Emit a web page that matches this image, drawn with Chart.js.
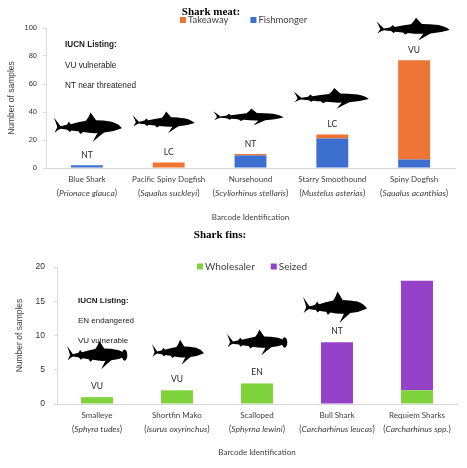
<!DOCTYPE html>
<html>
<head>
<meta charset="utf-8">
<script src="https://cdn.jsdelivr.net/npm/chart.js@4.4.1/dist/chart.umd.min.js"></script>
<style>
    body { margin: 0; background: #fff; }
    .box { position: absolute; left: 0; width: 467px; }
    #meatBox { top: 0; height: 230px; }
    #finBox { top: 230px; height: 238px; }
</style>
</head>
<body>
<div class="box" id="meatBox"><canvas id="meatChart"></canvas></div>
<div class="box" id="finBox"><canvas id="finChart"></canvas></div>
<script>
// * Shark meat
const meatSpecies = ["Blue Shark", "Pacific Spiny Dogfish", "Nursehound", "Starry Smoothound", "Spiny Dogfish"];
const meatLatin = ["Prionace glauca", "Squalus suckleyi", "Scyliorhinus stellaris", "Mustelus asterias", "Squalus acanthias"];
const meatIucn = ["NT", "LC", "NT", "LC", "VU"];
const fishmonger = [2, 0, 9, 21, 6];
const takeaway = [0, 4, 1, 3, 71];
const meatTicks = [0, 20, 40, 60, 80, 100];
const meatNotes = ["VU vulnerable", "NT near threatened"];

// * Shark fins
const finSpecies = ["Smalleye", "Shortfin Mako", "Scalloped", "Bull Shark", "Requiem Sharks"];
const finLatin = ["Sphyra tudes", "Isurus oxyrinchus", "Sphyrna lewini", "Carcharhinus leucas", "Carcharhinus spp."];
const finIucn = ["VU", "VU", "EN", "NT", ""];
const wholesaler = [1, 2, 3, 0, 2];
const seized = [0, 0, 0, 9, 16];
const finTicks = [0, 5, 10, 15, 20];
const finNotes = ["EN endangered", "VU vulnerable"];

const SANS = "Lato, 'Open Sans', sans-serif";
const ARIAL = "'Liberation Sans', Arial, sans-serif";
const SERIF = "'Liberation Serif', 'Times New Roman', serif";
const TEXT = "#404040";

// silhouettes, drawn facing right (tail at x=0, nose at x=100)
function sharkPath(ctx, cx, cy, len, h, hammer) {
    const X = (u) => cx + (u - 50) / 100 * len;
    const Y = (v) => cy + v / 100 * len * h;
    ctx.beginPath();
    ctx.moveTo(X(100), Y(2));
    ctx.quadraticCurveTo(X(95), Y(-7), X(85), Y(-11));
    ctx.quadraticCurveTo(X(72), Y(-14), X(62), Y(-14));
    ctx.lineTo(X(54), Y(-30));
    ctx.quadraticCurveTo(X(51), Y(-19), X(47), Y(-13));
    ctx.quadraticCurveTo(X(35), Y(-10), X(25), Y(-6));
    ctx.lineTo(X(22), Y(-11));
    ctx.lineTo(X(19), Y(-5));
    ctx.quadraticCurveTo(X(14), Y(-3), X(10), Y(-2));
    ctx.lineTo(X(0), Y(-20));
    ctx.quadraticCurveTo(X(4), Y(-6), X(5), Y(0));
    ctx.lineTo(X(1), Y(11));
    ctx.quadraticCurveTo(X(7), Y(4), X(10), Y(3));
    ctx.quadraticCurveTo(X(16), Y(4.5), X(20), Y(5));
    ctx.lineTo(X(23), Y(10));
    ctx.lineTo(X(26), Y(6.5));
    ctx.quadraticCurveTo(X(32), Y(8), X(36), Y(8.5));
    ctx.lineTo(X(39), Y(14));
    ctx.lineTo(X(43), Y(10));
    ctx.quadraticCurveTo(X(55), Y(13), X(64), Y(12));
    ctx.lineTo(X(57), Y(30));
    ctx.quadraticCurveTo(X(66), Y(19), X(74), Y(11));
    ctx.quadraticCurveTo(X(88), Y(9), X(100), Y(2));
    ctx.closePath();
    ctx.fill();
    if (hammer) {
        ctx.beginPath();
        ctx.ellipse(X(96), Y(0), len * 0.045, len * h * 0.12, 0, 0, Math.PI * 2);
        ctx.fill();
    }
}

function drawLatin(ctx, text, x, y, size) {
    ctx.font = `${size}px ${SANS}`;
    const wo = ctx.measureText("(").width;
    const wc = ctx.measureText(")").width;
    ctx.font = `italic ${size}px ${SANS}`;
    const wt = ctx.measureText(text).width;
    const left = x - (wo + wt + wc) / 2;
    ctx.textAlign = "left";
    ctx.font = `${size}px ${SANS}`;
    ctx.fillText("(", left, y);
    ctx.font = `italic ${size}px ${SANS}`;
    ctx.fillText(text, left + wo, y);
    ctx.font = `${size}px ${SANS}`;
    ctx.fillText(")", left + wo + wt, y);
}

// * Title, legend, IUCN notes, codes, sharks and latin names
const decor = {
    id: "decor",
    afterDraw(chart, args, o) {
        const ctx = chart.ctx;
        const x = chart.scales.x, y = chart.scales.y;
        const ds = chart.data.datasets;
        ctx.save();
        ctx.textBaseline = "middle";

        ctx.fillStyle = "#000";
        ctx.font = `bold ${o.titleSize}px ${SERIF}`;
        ctx.textAlign = "center";
        ctx.fillText(o.title, o.titleX, o.titleY);

        // legend
        let lx = o.legendX;
        ctx.font = `${o.legendSize}px ${SANS}`;
        ctx.textAlign = "left";
        o.legendOrder.forEach((k) => {
            ctx.fillStyle = ds[k].backgroundColor;
            ctx.fillRect(lx, o.legendY - 3, 6, 6);
            ctx.fillStyle = TEXT;
            ctx.fillText(ds[k].label, lx + 8, o.legendY);
            lx += 8 + ctx.measureText(ds[k].label).width + o.legendGap;
        });

        // IUCN listing
        ctx.fillStyle = "#1a1a1a";
        ctx.font = `bold ${o.noteSize}px ${ARIAL}`;
        ctx.fillText("IUCN Listing:", o.noteX, o.noteY);
        ctx.font = `${o.noteSize}px ${ARIAL}`;
        o.notes.forEach((t, i) => ctx.fillText(t, o.noteX, o.noteY + (i + 1) * o.noteStep));

        chart.data.labels.forEach((lab, i) => {
            const cx = x.getPixelForValue(i);
            const total = ds.reduce((s, d) => s + d.data[i], 0);
            const top = y.getPixelForValue(total);
            ctx.fillStyle = "#262626";
            ctx.font = `${o.codeSize}px ${SANS}`;
            ctx.textAlign = "center";
            if (o.codes[i]) ctx.fillText(o.codes[i], cx, top - o.codeUp);
            const s = o.sharks[i];
            if (s) {
                ctx.fillStyle = "#000";
                sharkPath(ctx, cx + s.dx, top - s.up, s.len, s.h, s.hammer);
            }
            ctx.fillStyle = TEXT;
            drawLatin(ctx, o.latin[i], cx, o.latinY, o.latinSize);
        });
        ctx.restore();
    },
};

function makeChart(id, cfg) {
    return new Chart(document.getElementById(id), {
        type: "bar",
        data: {
            labels: cfg.labels,
            datasets: cfg.datasets.map((d) => ({
                label: d.label,
                data: d.data,
                backgroundColor: d.color,
                categoryPercentage: 1,
                barPercentage: cfg.barPct,
            })),
        },
        options: {
            responsive: true,
            maintainAspectRatio: false,
            animation: false,
            layout: { padding: { top: cfg.top, right: cfg.right, left: 0, bottom: 0 } },
            plugins: {
                legend: { display: false },
                tooltip: { enabled: false },
                decor: cfg.decor,
            },
            scales: {
                x: {
                    stacked: true,
                    grid: { display: false, drawTicks: false },
                    border: { color: "#d9d9d9" },
                    ticks: { color: TEXT, font: { family: SANS, size: cfg.tickSize }, padding: 7, maxRotation: 0, autoSkip: false },
                    title: { display: true, text: "Barcode Identification", color: TEXT, font: { family: SANS, size: 8 }, padding: { top: 0, bottom: cfg.xTitlePad } },
                    afterFit: (s) => { s.height = cfg.xHeight; },
                },
                y: {
                    stacked: true,
                    min: cfg.ticks[0],
                    max: cfg.ticks[cfg.ticks.length - 1],
                    grid: { drawOnChartArea: false, drawTicks: true, tickLength: 3, color: "#d9d9d9" },
                    border: { color: "#d9d9d9" },
                    afterBuildTicks: (s) => { s.ticks = cfg.ticks.map((v) => ({ value: v })); },
                    ticks: { color: "#333", font: { family: ARIAL, size: cfg.yTickSize }, padding: cfg.yTickPad },
                    title: { display: true, text: "Number of samples", color: TEXT, font: { family: ARIAL, size: 8.5 }, padding: { top: cfg.yTitlePad, bottom: 0 } },
                    afterFit: (s) => { s.width = cfg.yWidth; },
                },
            },
        },
        plugins: [decor],
    });
}

makeChart("meatChart", {
    labels: meatSpecies,
    datasets: [
        { label: "Fishmonger", data: fishmonger, color: "#3C6FCF" },
        { label: "Takeaway", data: takeaway, color: "#ED7433" },
    ],
    ticks: meatTicks,
    barPct: 0.39,
    top: 28, right: 12, xHeight: 62, yWidth: 46,
    tickSize: 8, yTickSize: 7.5, yTickPad: 6, xTitlePad: 7.5, yTitlePad: 7,
    decor: {
        title: "Shark meat:", titleX: 211, titleY: 12, titleSize: 11,
        legendOrder: [1, 0], legendX: 180, legendY: 20, legendSize: 9.5, legendGap: 22,
        notes: meatNotes, noteX: 65, noteY: 45, noteStep: 20.5, noteSize: 8.2,
        codes: meatIucn, codeUp: 10, codeSize: 8.5,
        latin: meatLatin, latinY: 193, latinSize: 8.5,
        sharks: [
            { len: 68, h: 0.72, up: 38, dx: 1 },
            { len: 62, h: 0.58, up: 40, dx: -5 },
            { len: 70, h: 0.41, up: 37, dx: -2 },
            { len: 75, h: 0.46, up: 36, dx: -1 },
            { len: 73, h: 0.52, up: 31, dx: -1 },
        ],
    },
});

makeChart("finChart", {
    labels: finSpecies,
    datasets: [
        { label: "Wholesaler", data: wholesaler, color: "#7ED43A" },
        { label: "Seized", data: seized, color: "#9541C9" },
    ],
    ticks: finTicks,
    barPct: 0.4,
    top: 37, right: 10, xHeight: 64, yWidth: 57,
    tickSize: 8, yTickSize: 8.5, yTickPad: 9, xTitlePad: 10.5, yTitlePad: 15,
    decor: {
        title: "Shark fins:", titleX: 220, titleY: 5, titleSize: 11,
        legendOrder: [0, 1], legendX: 197, legendY: 36.5, legendSize: 10, legendGap: 16,
        notes: finNotes, noteX: 78, noteY: 71, noteStep: 20, noteSize: 8,
        codes: finIucn, codeUp: 11, codeSize: 8.5,
        latin: finLatin, latinY: 199, latinSize: 8.5,
        sharks: [
            { len: 60, h: 0.78, up: 42, dx: 0, hammer: true },
            { len: 52, h: 0.8, up: 38, dx: 1 },
            { len: 60, h: 0.72, up: 41, dx: 0, hammer: true },
            { len: 64, h: 0.82, up: 35, dx: -2 },
            null,
        ],
    },
});
</script>
</body>
</html>
